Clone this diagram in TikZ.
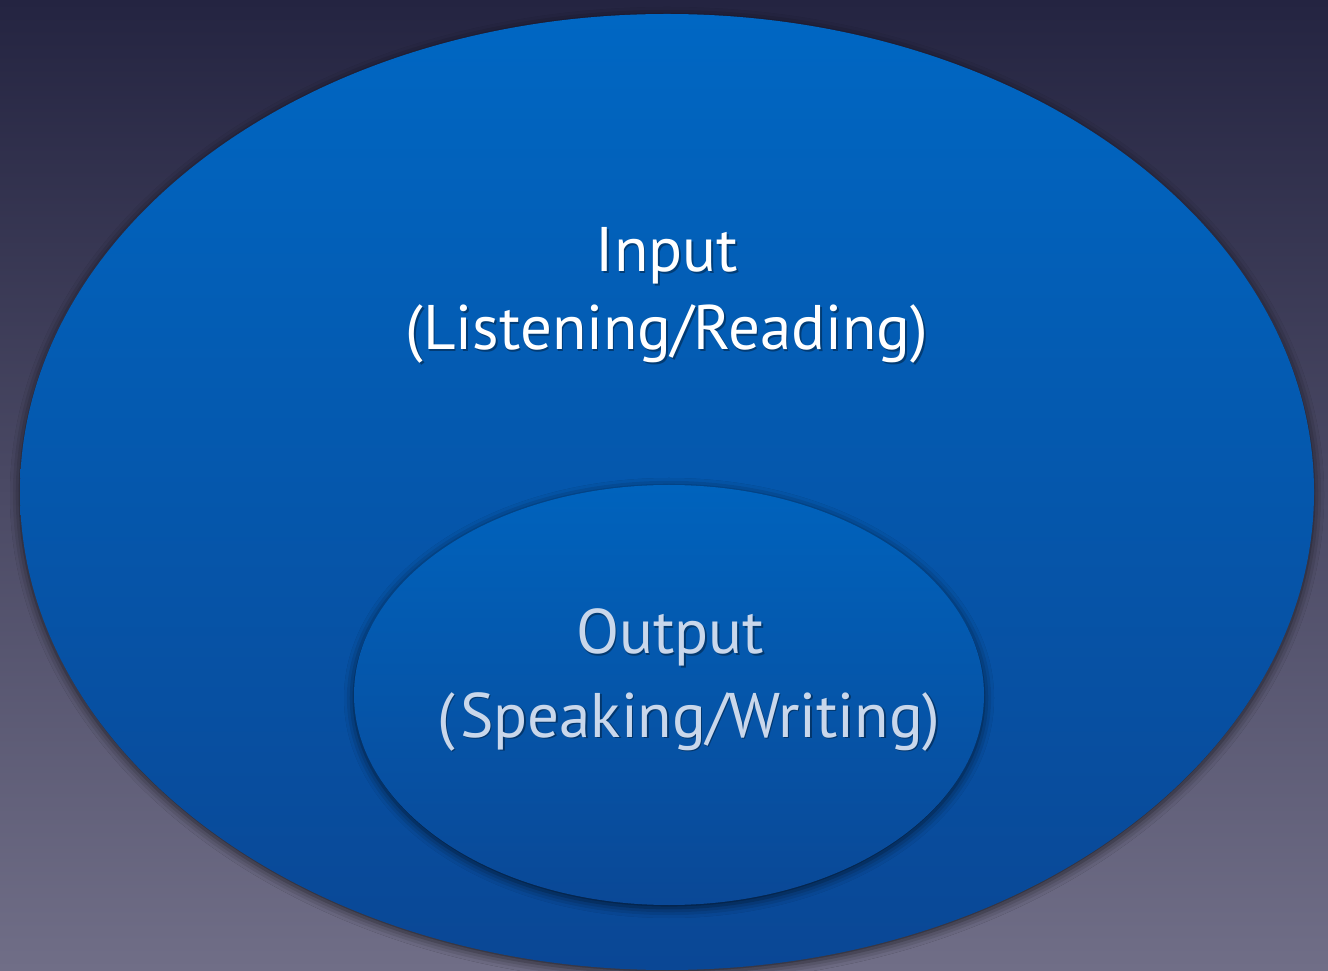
\documentclass[tikz,border=0pt]{standalone}
\usepackage{fontspec}
\setmainfont{PT Sans}
\usetikzlibrary{shadows.blur}
\definecolor{bgtop}{HTML}{242441}
\definecolor{bgbot}{HTML}{706E87}
\definecolor{bltop}{HTML}{0067C3}
\definecolor{blbot}{HTML}{0A4795}
\definecolor{intop}{HTML}{0063BD}
\definecolor{inbot}{HTML}{0A4896}
\definecolor{outtext}{HTML}{C9D7EB}
\tikzset{
  bigtext/.style={font=\fontsize{63}{75}\selectfont, inner sep=0pt, anchor=base},
  txtshadow/.style={bigtext, text=black, opacity=0.35},
  blob/.style={blur shadow={shadow xshift=0pt, shadow yshift=-3pt, shadow blur radius=10pt, shadow opacity=70}}
}
\begin{document}
\begin{tikzpicture}[x=1pt,y=1pt]
\useasboundingbox (0,0) rectangle (1328,970);
\fill[top color=bgtop, bottom color=bgbot] (0,0) rectangle (1328,970);
% big ellipse
\path[blob, top color=bltop, bottom color=blbot] (667,478) ellipse [x radius=647, y radius=478];
% inner ellipse
\path[blob, top color=intop, bottom color=inbot] (669,275) ellipse [x radius=315, y radius=210];
% texts
\node[txtshadow] (inS) at (668.5,696.5) {Input};
\node[bigtext, text=white] (in) at (667,698) {Input};
\node[txtshadow] (lrS) at (668.5,618.5) {(Listening/Reading)};
\node[bigtext, text=white] (lr) at (667,620) {(Listening/Reading)};
\node[txtshadow] (outS) at (671.5,314.5) {Output};
\node[bigtext, text=outtext] (out) at (670,316) {Output};
\node[txtshadow] (swS) at (690.5,231.5) {(\kern5pt Speaking/Writing)};
\node[bigtext, text=outtext] (sw) at (689,233) {(\kern5pt Speaking/Writing)};
\end{tikzpicture}
\end{document}
